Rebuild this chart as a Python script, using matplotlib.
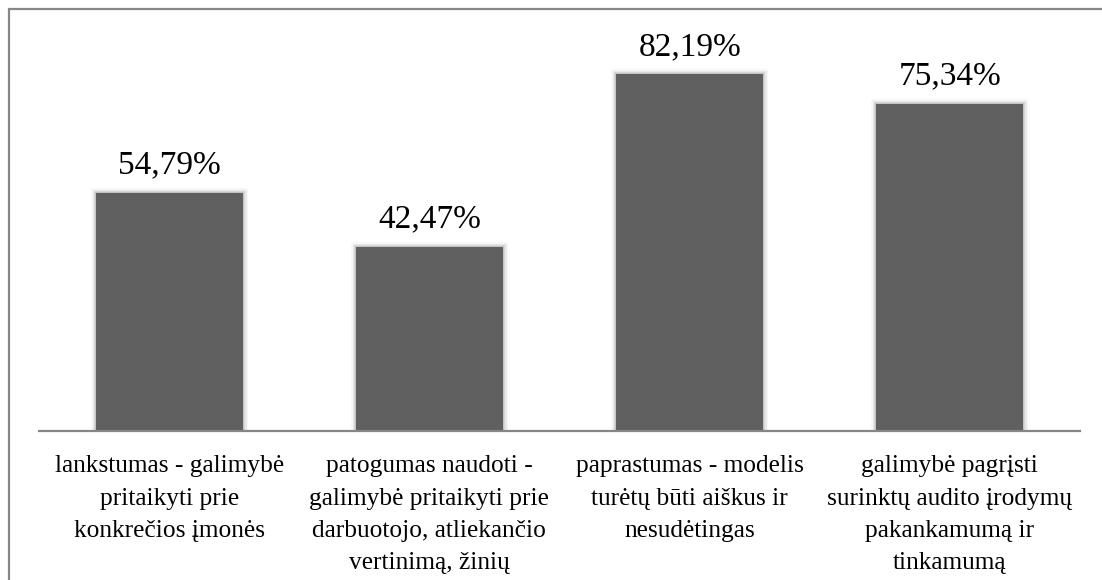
import matplotlib
matplotlib.use("Agg")
import matplotlib.pyplot as plt
from matplotlib.patches import Rectangle

categories = [
    "lankstumas - galimybė\npritaikyti prie\nkonkrečios įmonės",
    "patogumas naudoti -\ngalimybė pritaikyti prie\ndarbuotojo, atliekančio\nvertinimą, žinių",
    "paprastumas - modelis\nturėtų būti aiškus ir\nnesudėtingas",
    "galimybė pagrįsti\nsurinktų audito įrodymų\npakankamumą ir\ntinkamumą",
]
values = [54.79, 42.47, 82.19, 75.34]
value_labels = ["54,79%", "42,47%", "82,19%", "75,34%"]

plt.rcParams['font.family'] = ['Liberation Serif', 'DejaVu Serif']

W, H = 1102, 580
fig = plt.figure(figsize=(W / 100, H / 100), dpi=100)

# outer border (cropped on right/bottom)
fig.patches.append(Rectangle((8.5 / W, -0.1), 1.2, (H - 9.5) / H + 0.1,
                             transform=fig.transFigure, fill=False,
                             edgecolor='#878787', linewidth=1.6))

ax_left, ax_right = 39, 1080
ax_bottom = 431
ymax = 90
px_per = 4.34
ax_top = ax_bottom - ymax * px_per
ax = fig.add_axes([ax_left / W, (H - ax_bottom) / H,
                   (ax_right - ax_left) / W, (ax_bottom - ax_top) / H])

x = list(range(len(values)))
bw = 0.565
# soft shadow
for lw, a in [(7, 0.035), (5, 0.05), (3, 0.07), (1.5, 0.09)]:
    ax.bar(x, values, width=bw, color='none', edgecolor=(0, 0, 0, a),
           linewidth=lw, zorder=1)
ax.bar(x, values, width=bw, color='#606060', edgecolor='none', zorder=2)

for xi, v, lab in zip(x, values, value_labels):
    ax.annotate(lab, (xi, v), xytext=(0, 14), textcoords='offset points',
                ha='center', va='baseline', fontsize=24, color='#000000')

ax.set_xlim(-0.5, len(values) - 0.5)
ax.set_ylim(0, ymax)
ax.set_yticks([])
ax.set_xticks(x)
ax.set_xticklabels(categories, fontsize=18.3, linespacing=1.6)
ax.tick_params(axis='x', length=0, pad=17.5)
for s in ['top', 'left', 'right']:
    ax.spines[s].set_visible(False)
ax.spines['bottom'].set_color('#868686')
ax.spines['bottom'].set_linewidth(1.6)
ax.spines['bottom'].set_zorder(3)
ax.patch.set_alpha(0)

fig.savefig('out.png', dpi=100)
